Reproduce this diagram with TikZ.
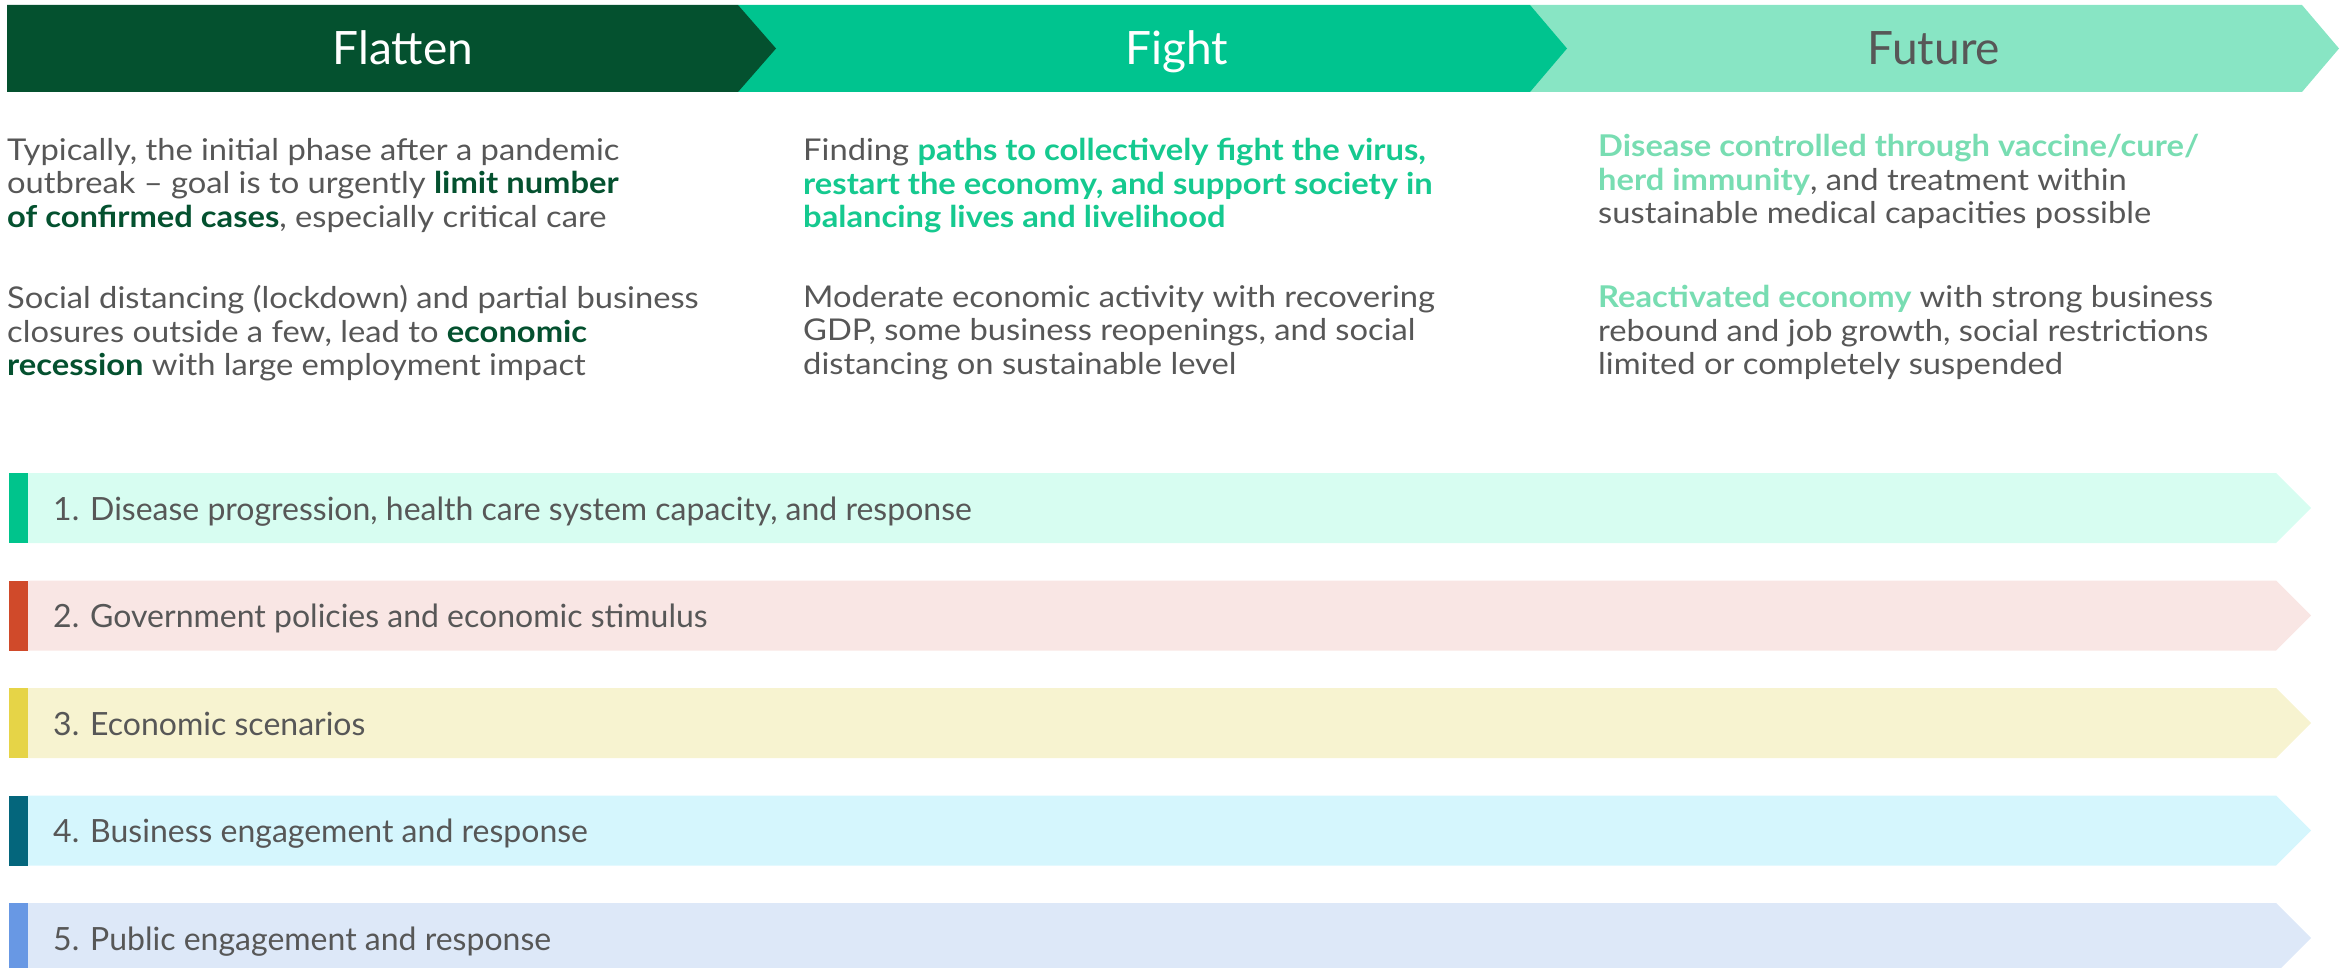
\documentclass[tikz,border=0pt]{standalone}
\usepackage{fontspec}
\setmainfont{Lato}
\newfontfamily\widelato[FakeStretch=1.09,Ligatures=TeX]{Lato}
\usetikzlibrary{positioning}

\definecolor{flatgreen}{HTML}{04512F}
\definecolor{fightgreen}{HTML}{00C48F}
\definecolor{futuregreen}{HTML}{88E5C4}
\definecolor{txtgray}{HTML}{575757}
\definecolor{fightbf}{HTML}{15C98F}
\definecolor{futurebf}{HTML}{78DDB2}
\definecolor{bgA}{HTML}{D7FDF1}
\definecolor{stA}{HTML}{00C48C}
\definecolor{bgB}{HTML}{F9E6E4}
\definecolor{stB}{HTML}{D04A2A}
\definecolor{bgC}{HTML}{F7F3D0}
\definecolor{stC}{HTML}{E6D447}
\definecolor{bgD}{HTML}{D5F6FD}
\definecolor{stD}{HTML}{04667C}
\definecolor{bgE}{HTML}{DDE8F8}
\definecolor{stE}{HTML}{6898E4}

\newcommand{\flatbf}[1]{{\bfseries\color{flatgreen}#1}}
\newcommand{\fightbf}[1]{{\bfseries\color{fightbf}#1}}
\newcommand{\futbf}[1]{{\bfseries\color{futurebf}#1}}

\tikzset{
	phase/.style={anchor=base, inner sep=0pt, font=\fontsize{46}{50}\selectfont},
	body/.style={anchor=north west, inner sep=0pt, align=left, text=txtgray,
		font=\widelato\fontsize{30}{33.7}\selectfont},
	tracklabel/.style={anchor=base west, inner sep=0pt, text=txtgray,
		font=\fontsize{32}{36}\selectfont}
}

\begin{document}
\begin{tikzpicture}[x=1pt,y=-1pt]
	\useasboundingbox (0,0) rectangle (2346,968);
	
	%phases
	\fill[futuregreen] (1530,5) -- (2302,5) -- (2339,48.5) -- (2302,92) -- (1530,92) -- cycle;
	\fill[fightgreen] (738,5) -- (1530,5) -- (1567,48.5) -- (1530,92) -- (738,92) -- cycle;
	\fill[flatgreen] (7,5) -- (738,5) -- (776,48.5) -- (738,92) -- (7,92) -- cycle;
	\node[phase,text=white] (flatten) at (403,65) {Flatten};
	\node[phase,text=white] (fight) at (1177,65) {Fight};
	\node[phase,text=txtgray] (future) at (1934,65) {Future};
	
	%texts
	\node[body] (flatA) at (7,138) {Typically, the initial phase after a pandemic\\
		outbreak – goal is to urgently \flatbf{limit number}\\
		\flatbf{of confirmed cases}, especially critical care};
	\node[body] (flatB) at (7,285) {Social distancing (lockdown) and partial business\\
		closures outside a few, lead to \flatbf{economic}\\
		\flatbf{recession} with large employment impact};
	\node[body] (fightA) at (803,138) {Finding \fightbf{paths to collectively fight the virus,}\\
		\fightbf{restart the economy, and support society in}\\
		\fightbf{balancing lives and livelihood}};
	\node[body] (fightB) at (803,285) {Moderate economic activity with recovering\\
		GDP, some business reopenings, and social\\
		distancing on sustainable level};
	\node[body] (futA) at (1598,134) {\futbf{Disease controlled through vaccine/cure/}\\
		\futbf{herd immunity}, and treatment within\\
		sustainable medical capacities possible};
	\node[body] (futB) at (1598,285) {\futbf{Reactivated economy} with strong business\\
		rebound and job growth, social restrictions\\
		limited or completely suspended};
	
	%tracks
	\foreach \i/\bg/\st/\txt in {0/bgA/stA/{1. Disease progression, health care system capacity, and response},
		1/bgB/stB/{2. Government policies and economic stimulus},
		2/bgC/stC/{3. Economic scenarios},
		3/bgD/stD/{4. Business engagement and response},
		4/bgE/stE/{5. Public engagement and response}}
	{
		\pgfmathsetmacro{\yt}{473+107.5*\i}
		\fill[\bg] (28,\yt) -- (2276,\yt) -- (2311,\yt+35) -- (2276,\yt+70) -- (28,\yt+70) -- cycle;
		\fill[\st] (9,\yt) rectangle (28,\yt+70);
		\node[tracklabel] (track\i) at (53,\yt+47) {\txt};
	}
	
\end{tikzpicture}
\end{document}
